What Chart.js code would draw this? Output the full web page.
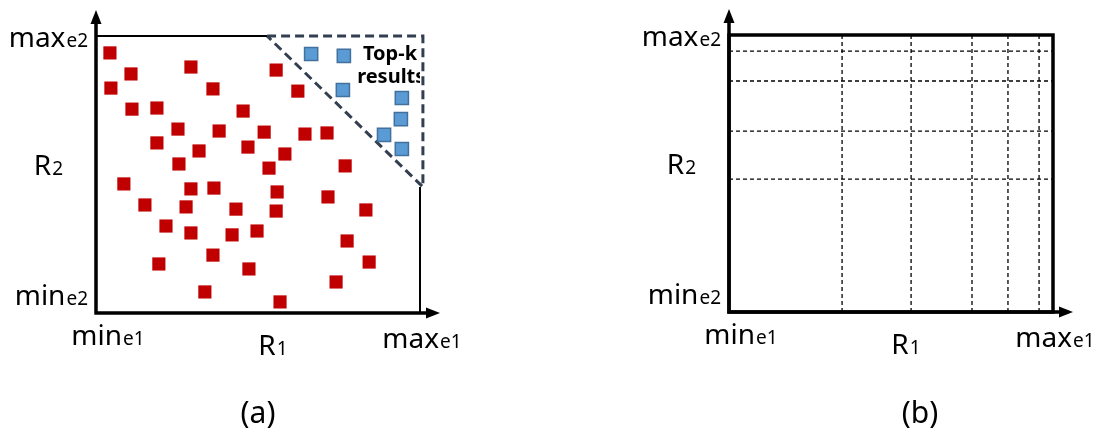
<!DOCTYPE html>
<html lang="en">
<head>
    <meta charset="UTF-8">
    <title>Top-k region and grid partition</title>
    <style>
        html, body { margin: 0; padding: 0; background: #fff; }
        .wrap { position: relative; width: 1099px; height: 434px; }
        canvas { position: absolute; top: 0; }
        #chartA { left: 0; }
        #chartB { left: 550px; }
    </style>
</head>
<body>
    <div class="wrap">
        <canvas id="chartA" width="550" height="434"></canvas>
        <canvas id="chartB" width="549" height="434"></canvas>
    </div>

    <script src="https://cdn.jsdelivr.net/npm/chart.js"></script>
    <script>
        // values on a 0..100 scale for R1 (x) and R2 (y)
        const redPoints = [
            [4.3, 93.9], [10.8, 86.3], [4.6, 81.2], [29.3, 88.8], [36.1, 80.9],
            [11.1, 73.6], [18.8, 74.0], [55.6, 87.7], [62.3, 80.1], [45.4, 72.9],
            [25.3, 66.4], [38.0, 65.7], [51.9, 65.3], [64.5, 64.6], [71.3, 65.0],
            [18.8, 61.4], [31.8, 58.5], [46.9, 59.9], [58.3, 57.4], [25.6, 53.8],
            [53.4, 52.3], [76.9, 53.1], [8.6, 46.6], [29.3, 44.8], [36.4, 45.1],
            [55.9, 43.7], [71.6, 41.9], [15.1, 39.0], [27.8, 38.3], [43.2, 37.5],
            [55.6, 36.8], [83.3, 37.2], [21.6, 31.4], [29.3, 28.9], [42.0, 28.2],
            [49.7, 29.6], [77.5, 26.0], [36.1, 20.9], [19.4, 17.7], [47.2, 15.9],
            [84.3, 18.4], [74.1, 11.2], [33.6, 7.6], [56.8, 4.0]
        ];
        const topKPoints = [
            [66.4, 93.5], [76.5, 92.8], [76.2, 80.5], [94.4, 77.6],
            [94.1, 70.0], [88.9, 64.3], [94.4, 59.2]
        ];
        // corners of the top-k region (closed)
        const topKBoundary = [[52.8, 100], [100.9, 100], [100.9, 45.5], [52.8, 100]];

        // partition lines of panel (b)
        const gridX = [34.9, 56.2, 75.0, 86.1, 95.7];
        const gridY = [94.2, 83.4, 65.3, 48.0];

        const xTickLabels = [['min', 'e1'], ['R', '1'], ['max', 'e1']];
        const yTickLabels = [['max', 'e2'], ['R', '2'], ['min', 'e2']];
        const captions = ['(a)', '(b)'];
        const topKText = ['Top-k', 'results'];

        const FONT = "'Noto Sans', 'Open Sans', sans-serif";
        const toXY = p => ({ x: p[0], y: p[1] });

        // text like "max" + smaller "e2" on one baseline
        function drawSub(ctx, parts, x, y, align) {
            ctx.font = '28px ' + FONT;
            const w1 = ctx.measureText(parts[0]).width;
            ctx.font = '19px ' + FONT;
            const w2 = ctx.measureText(parts[1]).width;
            const total = w1 + w2 + 1;
            let sx = x;
            if (align === 'center') sx = x - total / 2;
            if (align === 'right') sx = x - total;
            ctx.textAlign = 'left';
            ctx.textBaseline = 'alphabetic';
            ctx.font = '28px ' + FONT;
            ctx.fillText(parts[0], sx, y);
            ctx.font = '19px ' + FONT;
            ctx.fillText(parts[1], sx + w1 + 1, y);
        }

        function arrowHead(ctx, x, y, dir) {
            ctx.beginPath();
            if (dir === 'up') {
                ctx.moveTo(x, y);
                ctx.lineTo(x - 5.5, y + 14);
                ctx.lineTo(x + 5.5, y + 14);
            } else {
                ctx.moveTo(x, y);
                ctx.lineTo(x - 14, y - 5.5);
                ctx.lineTo(x - 14, y + 5.5);
            }
            ctx.closePath();
            ctx.fill();
        }

        const diagramPlugin = {
            id: 'diagram',
            beforeDatasetsDraw(chart, args, opts) {
                if (!opts.topKLabel) return;
                const ctx = chart.ctx, ca = chart.chartArea;
                const xs = chart.scales.x, ys = chart.scales.y;
                ctx.save();
                ctx.beginPath();
                ctx.rect(ca.left, ca.top, ca.right - ca.left, ca.bottom - ca.top);
                ctx.clip();
                ctx.fillStyle = '#000';
                ctx.font = 'bold 20px ' + FONT;
                ctx.textAlign = 'left';
                ctx.fillText(topKText[0], xs.getPixelForValue(82.4), ys.getPixelForValue(91.3));
                ctx.fillText(topKText[1], xs.getPixelForValue(80.6), ys.getPixelForValue(83.0));
                ctx.restore();
            },
            afterDraw(chart, args, opts) {
                const ctx = chart.ctx, ca = chart.chartArea;
                ctx.save();
                ctx.fillStyle = '#000';
                ctx.strokeStyle = '#000';

                if (opts.frame) {
                    ctx.lineWidth = 3.5;
                    ctx.strokeRect(ca.left, ca.top, ca.right - ca.left, ca.bottom - ca.top);
                }

                // axes with arrows
                ctx.lineWidth = 3.5;
                ctx.beginPath();
                ctx.moveTo(ca.left, ca.bottom + 1.5);
                ctx.lineTo(ca.left, ca.top - 18);
                ctx.moveTo(ca.left - 1.5, ca.bottom);
                ctx.lineTo(ca.right + 12, ca.bottom);
                ctx.stroke();
                arrowHead(ctx, ca.left, ca.top - 26, 'up');
                arrowHead(ctx, ca.right + 20, ca.bottom, 'right');

                const midY = (ca.top + ca.bottom) / 2;
                const midX = (ca.left + ca.right) / 2;
                drawSub(ctx, yTickLabels[0], ca.left - 8, ca.top + 11, 'right');
                drawSub(ctx, yTickLabels[1], ca.left - 33, midY, 'right');
                drawSub(ctx, yTickLabels[2], ca.left - 8, ca.bottom - 8, 'right');

                drawSub(ctx, xTickLabels[0], ca.left + 12, ca.bottom + 32, 'center');
                drawSub(ctx, xTickLabels[1], midX + 15, ca.bottom + 42, 'center');
                drawSub(ctx, xTickLabels[2], ca.right + 2, ca.bottom + 35, 'center');

                ctx.font = '30px ' + FONT;
                ctx.textAlign = 'center';
                ctx.fillText(opts.caption, opts.captionX, 423);
                ctx.restore();
            }
        };

        const baseOptions = (padding, pluginOpts) => ({
            responsive: false,
            animation: false,
            layout: { padding: padding },
            scales: {
                x: { type: 'linear', min: 0, max: 100, display: false },
                y: { type: 'linear', min: 0, max: 100, display: false }
            },
            plugins: {
                legend: { display: false },
                tooltip: { enabled: false },
                diagram: pluginOpts
            }
        });

        // Panel (a): data points and top-k region
        const bEnd = topKBoundary[2];
        new Chart(document.getElementById('chartA'), {
            type: 'scatter',
            data: {
                datasets: [
                    {
                        // solid part of the outer box
                        data: [{ x: 0, y: 100 }, toXY(topKBoundary[0]), { x: null, y: null },
                               { x: 100, y: bEnd[1] }, { x: 100, y: 0 }],
                        showLine: true,
                        spanGaps: false,
                        borderColor: '#000',
                        borderWidth: 2,
                        pointRadius: 0,
                        clip: false
                    },
                    {
                        data: redPoints.map(toXY),
                        pointStyle: 'rect',
                        pointRadius: 9.3,
                        backgroundColor: '#C00000',
                        borderColor: '#C00000',
                        borderWidth: 0,
                        clip: false
                    },
                    {
                        data: topKPoints.map(toXY),
                        pointStyle: 'rect',
                        pointRadius: 9.3,
                        backgroundColor: '#5B9BD5',
                        borderColor: '#41719C',
                        borderWidth: 1.5,
                        clip: false
                    },
                    {
                        data: topKBoundary.map(toXY),
                        showLine: true,
                        borderColor: '#333F50',
                        borderWidth: 3,
                        borderDash: [9, 5],
                        pointRadius: 0,
                        clip: false
                    }
                ]
            },
            options: baseOptions({ left: 96, right: 130, top: 36, bottom: 121 },
                { caption: captions[0], captionX: 258, topKLabel: true, frame: false }),
            plugins: [diagramPlugin]
        });

        // Panel (b): grid partition
        const gridSets = [];
        gridX.forEach(v => gridSets.push([{ x: v, y: 0 }, { x: v, y: 100 }]));
        gridY.forEach(v => gridSets.push([{ x: 0, y: v }, { x: 100, y: v }]));

        new Chart(document.getElementById('chartB'), {
            type: 'scatter',
            data: {
                datasets: gridSets.map(d => ({
                    data: d,
                    showLine: true,
                    borderColor: '#000',
                    borderWidth: 1.3,
                    borderDash: [4, 3],
                    pointRadius: 0,
                    clip: false
                }))
            },
            options: baseOptions({ left: 179, right: 46, top: 35, bottom: 122 },
                { caption: captions[1], captionX: 370, topKLabel: false, frame: true }),
            plugins: [diagramPlugin]
        });
    </script>
</body>
</html>
